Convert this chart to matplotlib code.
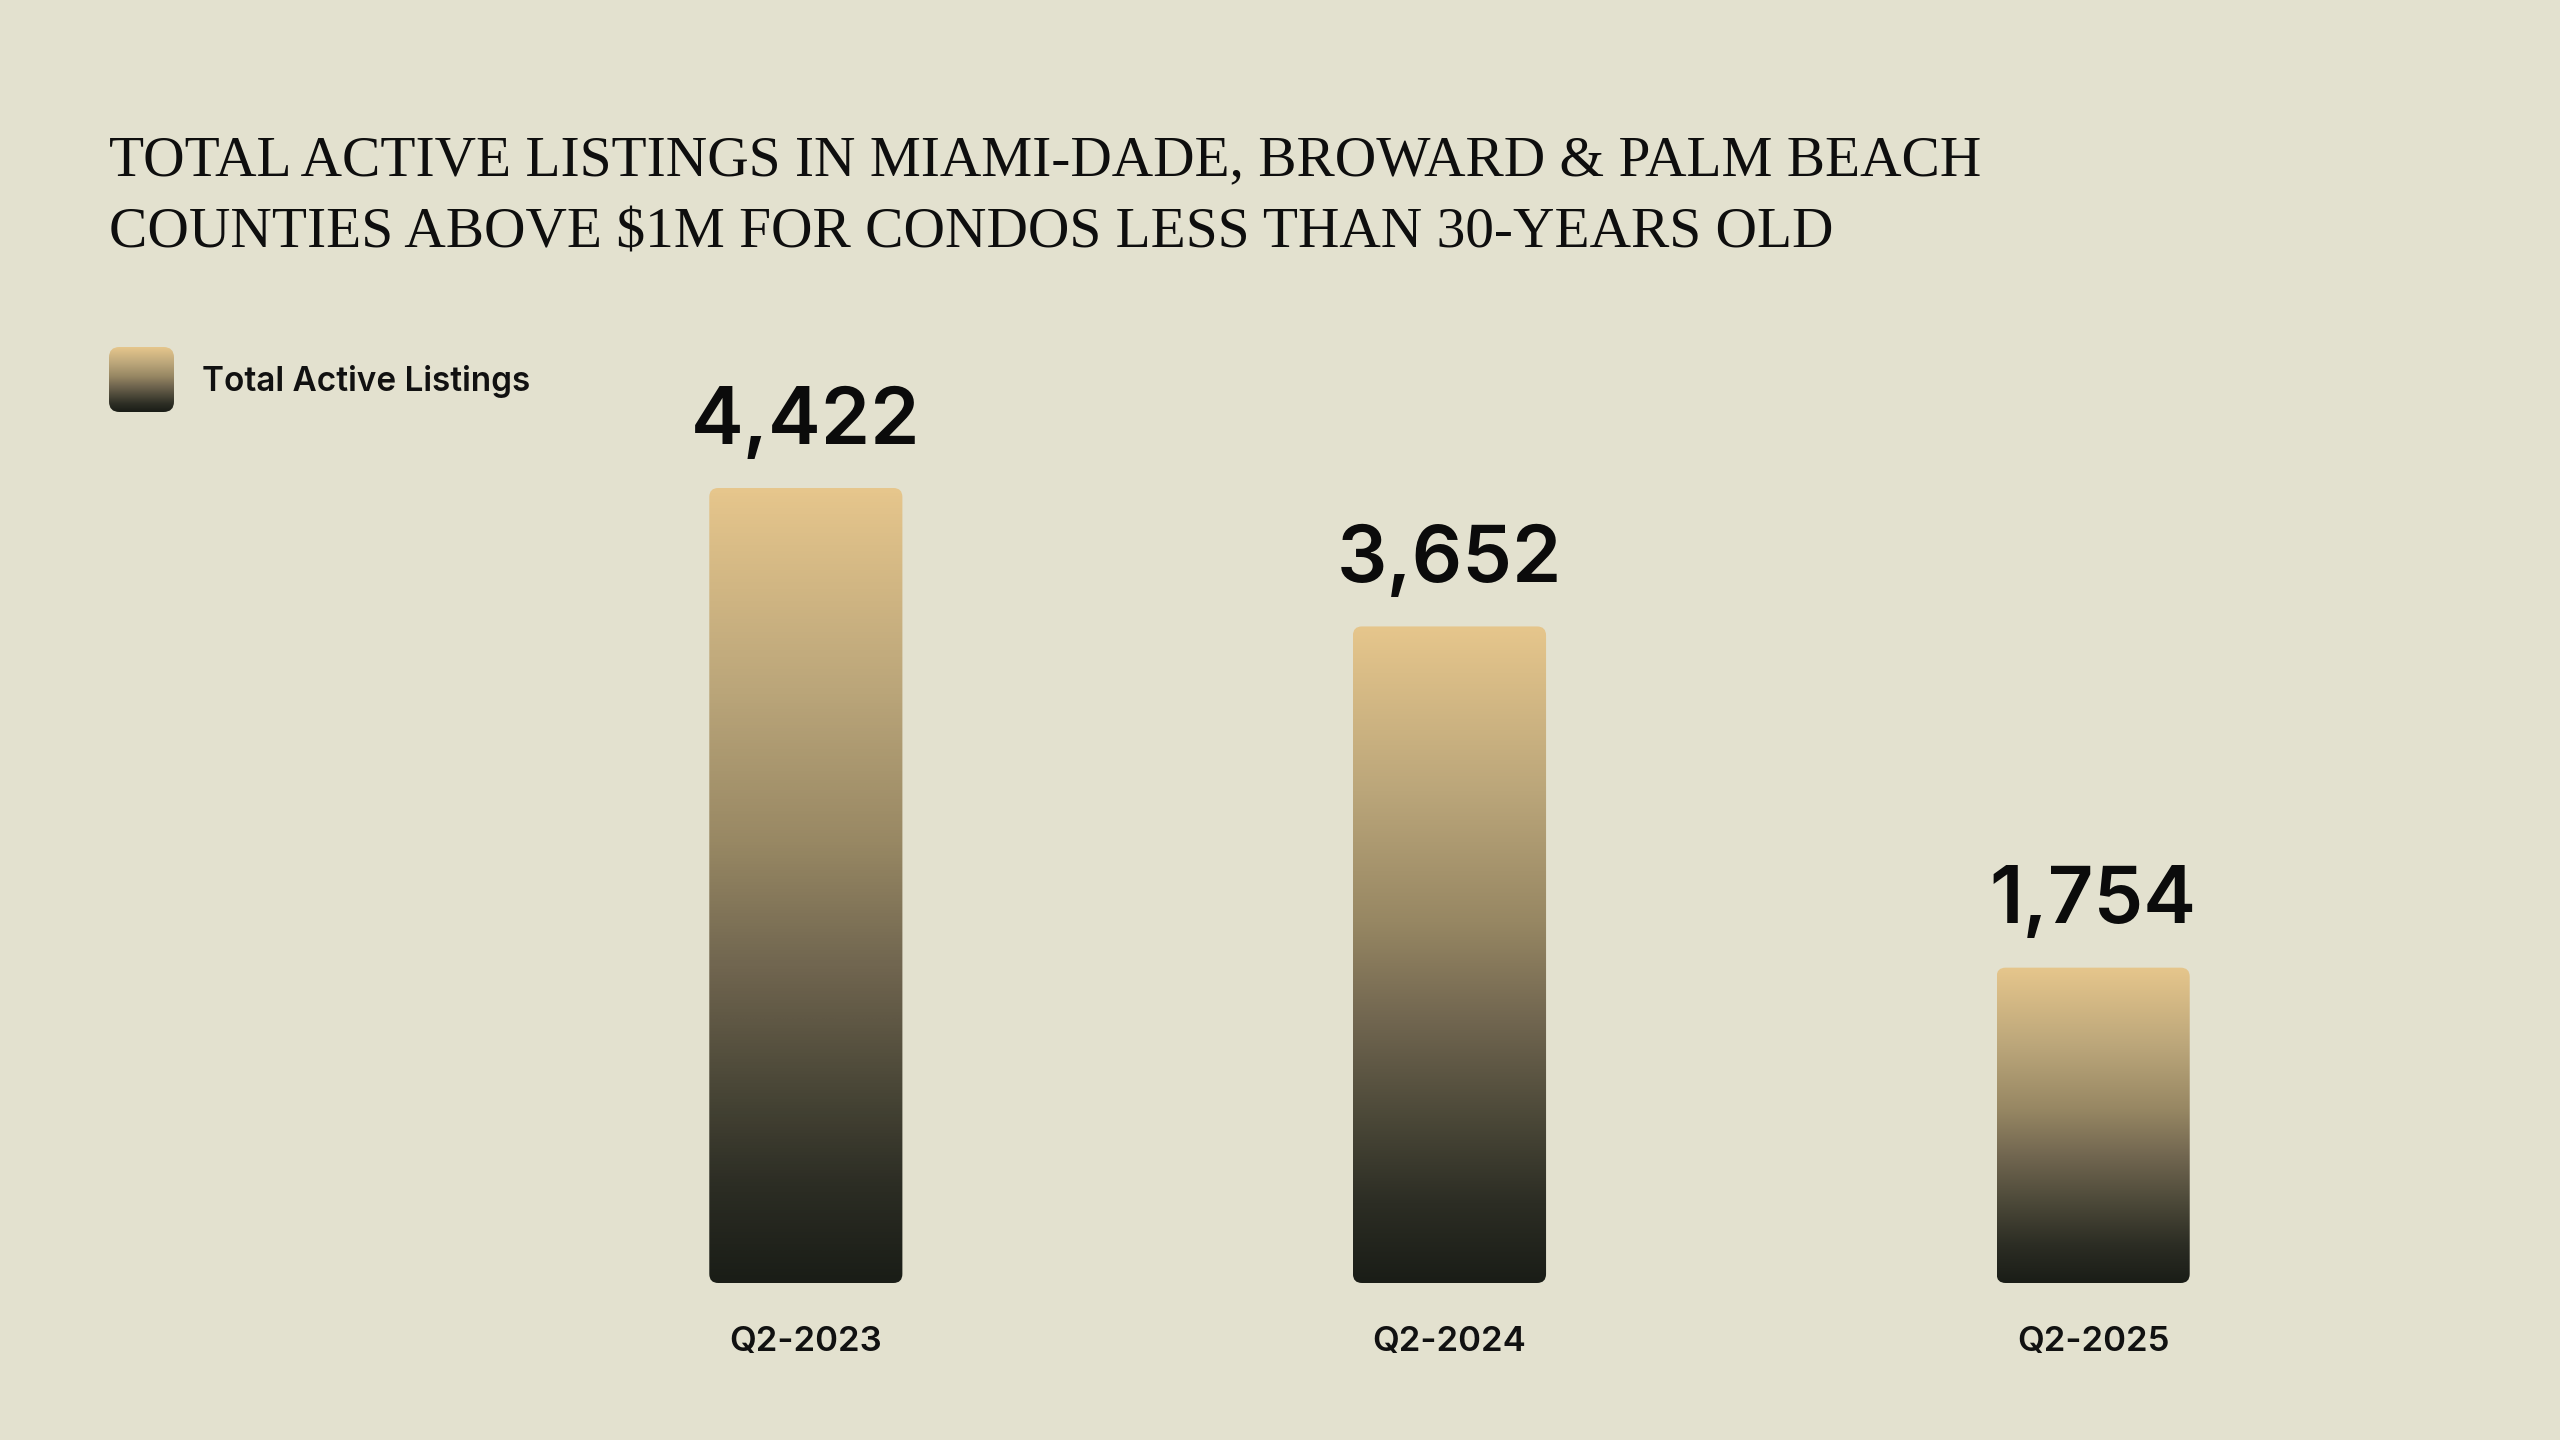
import matplotlib
matplotlib.use("Agg")
import matplotlib.pyplot as plt
import numpy as np
from matplotlib.colors import LinearSegmentedColormap
from matplotlib.patches import FancyBboxPatch

# data
quarters = ["Q2-2023", "Q2-2024", "Q2-2025"]
listings = [4422, 3652, 1754]
series_name = "Total Active Listings"
title_lines = ["TOTAL ACTIVE LISTINGS IN MIAMI-DADE, BROWARD & PALM BEACH",
               "COUNTIES ABOVE $1M FOR CONDOS LESS THAN 30-YEARS OLD"]

bg = "#E3E1CF"
grad = LinearSegmentedColormap.from_list(
    "gold", [(0.0, "#E6C68C"), (0.25, "#BBA67A"), (0.45, "#978763"),
             (0.6, "#716650"), (0.75, "#4B4838"), (0.88, "#2C2D24"),
             (1.0, "#1A1D17")])

W, H = 2560, 1440
fig = plt.figure(figsize=(W / 100, H / 100), dpi=100, facecolor=bg)

# axes placed in pixels: x from -0.5..2.5, baseline at y=1283px
ax_left, ax_right = 484, 2415
ax_bottom, ax_top = 1283, 388
ax = fig.add_axes([ax_left / W, (H - ax_bottom) / H,
                   (ax_right - ax_left) / W, (ax_bottom - ax_top) / H])
ax.set_facecolor(bg)
px_per_unit = (ax_bottom - 488) / max(listings)
for s in ax.spines.values():
    s.set_visible(False)
ax.set_yticks([])

bar_w = 0.3
gradimg = np.linspace(0, 1, 256).reshape(-1, 1)
rx = 9 * 3.0 / (ax_right - ax_left)   # corner radius, x data units
ry = 9 / px_per_unit                  # corner radius, y data units
for i, v in enumerate(listings):
    x0 = i - bar_w / 2
    patch = FancyBboxPatch((x0, 0), bar_w, v,
                           boxstyle="round,pad=0,rounding_size=%f" % rx,
                           mutation_aspect=ry / rx,
                           facecolor="none", edgecolor="none")
    ax.add_patch(patch)
    im = ax.imshow(gradimg, cmap=grad, aspect="auto",
                   extent=(x0, x0 + bar_w, 0, v), origin="upper",
                   interpolation="bicubic")
    im.set_clip_path(patch)
    ax.annotate(f"{v:,}", (i, v), xytext=(0, 32), textcoords="offset points",
                ha="center", va="baseline", fontsize=57, fontfamily="Inter",
                fontweight="semibold", color="#0B0B0B")

ax.set_xlim(-0.5, 2.5)
ax.set_ylim(0, (ax_bottom - ax_top) / px_per_unit)
ax.set_xticks(range(len(quarters)))
ax.set_xticklabels(quarters, fontsize=25, fontfamily="Inter",
                   fontweight="semibold", color="#111111")
ax.tick_params(axis="x", length=0, pad=31)

# title, width fitted to the reference line width
renderer = fig.canvas.get_renderer()
title_texts = []
for k, line in enumerate(title_lines):
    t = fig.text(109 / W, 1 - (175 + k * 73) / H, line, fontsize=52,
                 fontfamily="Liberation Serif", color="#0E0E0E",
                 ha="left", va="baseline")
    title_texts.append(t)
w0 = title_texts[0].get_window_extent(renderer).width
scale = (1984 - 109) / w0
for t in title_texts:
    t.set_fontsize(52 * scale)

# legend swatch
lx0, ly0, lsz = 109, 347, 65
lax = fig.add_axes([lx0 / W, (H - ly0 - lsz) / H, lsz / W, lsz / H])
lax.set_xlim(0, 1)
lax.set_ylim(0, 1)
lax.axis("off")
sw = FancyBboxPatch((0, 0), 1, 1, boxstyle="round,pad=0,rounding_size=0.16",
                    facecolor="none", edgecolor="none")
lax.add_patch(sw)
sim = lax.imshow(gradimg, cmap=grad, aspect="auto", extent=(0, 1, 0, 1),
                 origin="upper", interpolation="bicubic")
sim.set_clip_path(sw)
fig.text(202 / W, 1 - 391 / H, series_name, fontsize=24, fontfamily="Inter",
         fontweight="semibold", color="#111111", ha="left", va="baseline")

fig.savefig("out.png", dpi=100, facecolor=bg)
